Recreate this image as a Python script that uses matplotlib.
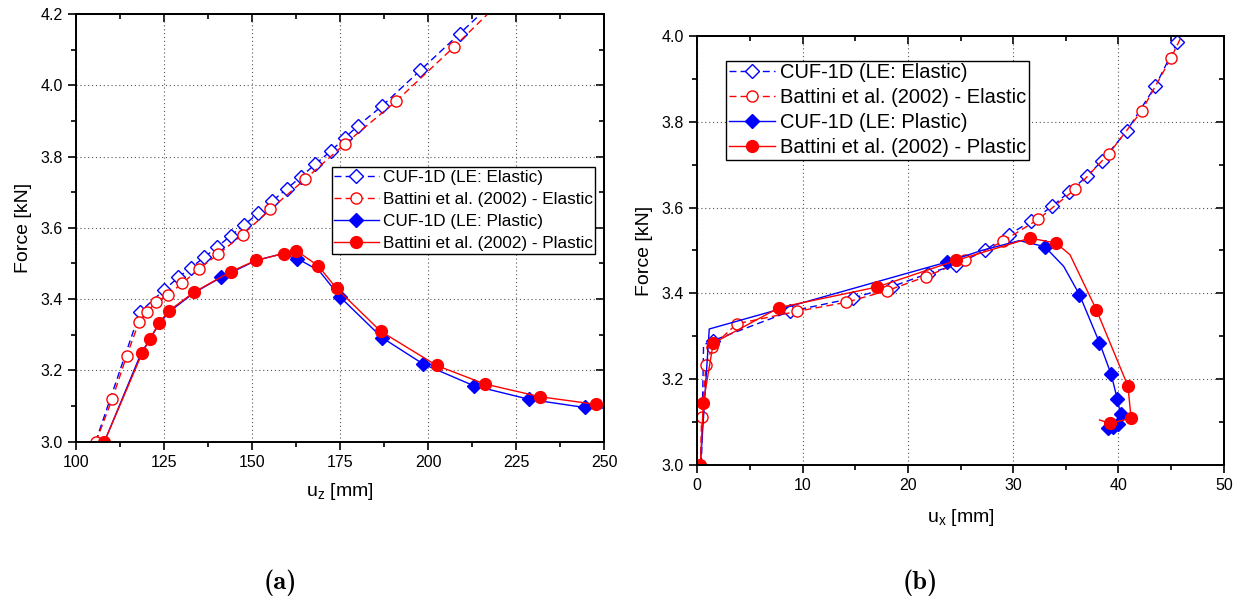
import os
import matplotlib; matplotlib.use("Agg")
import matplotlib.pyplot as plt
from matplotlib.ticker import MultipleLocator, FormatStrFormatter
from matplotlib.font_manager import FontProperties

plt.rcParams["font.family"] = ["Liberation Sans", "DejaVu Sans"]
plt.rcParams["mathtext.default"] = "regular"

# ---- (a) force vs u_z ----
a_el_cuf_x = [105.5, 118.1, 124.9, 129.0, 132.6, 136.3, 139.9, 143.9, 147.7, 151.8, 155.7,
              159.8, 163.8, 168.0, 172.3, 176.3, 180.0, 186.8, 197.8, 209.0, 216.0]
a_el_cuf_y = [3.0, 3.364, 3.425, 3.461, 3.488, 3.517, 3.545, 3.578, 3.608, 3.642, 3.675,
              3.709, 3.743, 3.779, 3.815, 3.852, 3.886, 3.941, 4.042, 4.145, 4.21]
a_el_bat_x = [105.6, 110.2, 114.3, 117.8, 120.0, 122.8, 126.1, 130.1, 134.9, 140.3, 147.3,
              155.2, 165.1, 176.3, 191.0, 207.3, 218.0]
a_el_bat_y = [3.0, 3.119, 3.240, 3.335, 3.365, 3.391, 3.413, 3.444, 3.485, 3.526, 3.581,
              3.652, 3.737, 3.835, 3.956, 4.107, 4.21]
a_pl_cuf_x = [108.0, 118.5, 121.0, 123.5, 126.5, 133.5, 141.2, 151.0, 158.0, 162.8, 169.0,
              175.1, 186.9, 198.6, 213.0, 228.7, 244.5, 251.0]
a_pl_cuf_y = [3.0, 3.25, 3.288, 3.33, 3.365, 3.418, 3.461, 3.508, 3.526, 3.514, 3.48,
              3.405, 3.292, 3.218, 3.157, 3.119, 3.096, 3.094]
a_pl_bat_x = [108.0, 118.8, 120.9, 123.4, 126.3, 133.4, 143.9, 151.1, 159.0, 162.6, 168.8,
              174.0, 186.5, 202.4, 216.1, 231.9, 247.6, 251.0]
a_pl_bat_y = [3.0, 3.250, 3.287, 3.332, 3.367, 3.419, 3.477, 3.509, 3.528, 3.536, 3.493,
              3.430, 3.310, 3.214, 3.162, 3.126, 3.105, 3.101]

# ---- (b) force vs u_x ----
b_el_cuf_x = [0.4, 0.6, 1.5, 8.8, 14.8, 18.5, 21.9, 24.6, 27.3, 29.6, 31.7, 33.7, 35.3,
              37.0, 38.4, 40.8, 43.5, 45.6, 46.0]
b_el_cuf_y = [3.0, 3.28, 3.29, 3.358, 3.389, 3.416, 3.446, 3.467, 3.50, 3.537, 3.568, 3.603,
              3.636, 3.673, 3.708, 3.779, 3.883, 3.986, 4.01]
b_el_bat_x = [0.3, 0.42, 0.83, 1.43, 3.74, 9.44, 14.1, 18.0, 21.7, 25.4, 29.0, 32.4, 35.9,
              39.1, 42.2, 45.0, 46.0]
b_el_bat_y = [3.0, 3.113, 3.233, 3.276, 3.329, 3.358, 3.379, 3.406, 3.439, 3.477, 3.521,
              3.573, 3.643, 3.726, 3.825, 3.949, 4.0]
b_pl_cuf_x = [0.3, 1.14, 23.7, 27.0, 30.6, 33.0, 34.8, 36.3, 38.2, 39.3, 39.9, 40.2, 40.0,
              39.5, 39.0]
b_pl_cuf_y = [3.0, 3.317, 3.473, 3.50, 3.523, 3.509, 3.463, 3.397, 3.285, 3.212, 3.153,
              3.118, 3.095, 3.088, 3.086]
b_pl_bat_x = [0.3, 0.57, 1.52, 7.8, 17.1, 24.6, 31.6, 34.1, 35.4, 37.9, 40.9, 41.2, 39.2, 38.2]
b_pl_bat_y = [3.0, 3.144, 3.284, 3.367, 3.415, 3.477, 3.529, 3.517, 3.49, 3.362, 3.184,
              3.109, 3.097, 3.105]

labels = ["CUF-1D (LE: Elastic)", "Battini et al. (2002) - Elastic",
          "CUF-1D (LE: Plastic)", "Battini et al. (2002) - Plastic"]
BLUE, RED = "#0000ff", "#ff0000"


def style_axes(ax, xmaj, xmin):
    ax.xaxis.set_major_locator(MultipleLocator(xmaj))
    ax.xaxis.set_minor_locator(MultipleLocator(xmin))
    ax.yaxis.set_major_locator(MultipleLocator(0.2))
    ax.yaxis.set_minor_locator(MultipleLocator(0.1))
    ax.yaxis.set_major_formatter(FormatStrFormatter("%.1f"))
    ax.xaxis.set_major_formatter(FormatStrFormatter("%d"))
    ax.grid(True, which="major", ls=(0, (1, 2.5)), color="#555555", lw=0.8)
    for s in ax.spines.values():
        s.set_linewidth(1.4)
    ax.tick_params(which="both", direction="out", width=1.2, labelsize=11.5, top=False, right=False)
    ax.tick_params(which="major", length=6)
    ax.tick_params(which="minor", length=3.5)
    # mirrored ticks pointing inward on top/right
    sec = ax.secondary_xaxis("top")
    sec.xaxis.set_major_locator(MultipleLocator(xmaj)); sec.xaxis.set_minor_locator(MultipleLocator(xmin))
    sec.tick_params(which="both", direction="in", width=1.2, labeltop=False)
    sec.tick_params(which="major", length=6); sec.tick_params(which="minor", length=3.5)
    sec.spines["top"].set_linewidth(1.4)
    sec2 = ax.secondary_yaxis("right")
    sec2.yaxis.set_major_locator(MultipleLocator(0.2)); sec2.yaxis.set_minor_locator(MultipleLocator(0.1))
    sec2.tick_params(which="both", direction="in", width=1.2, labelright=False)
    sec2.tick_params(which="major", length=6); sec2.tick_params(which="minor", length=3.5)
    sec2.spines["right"].set_linewidth(1.4)


def draw(ax, series):
    (ex1, ey1, mk1), (ex2, ey2, mk2), (px1, py1, mk3), (px2, py2, mk4) = series
    ax.plot(ex1, ey1, color=BLUE, ls=(0, (5, 3)), lw=1.0, marker="D", ms=7.5, mfc="white",
            mec=BLUE, mew=1.0, markevery=mk1, label=labels[0])
    ax.plot(ex2, ey2, color=RED, ls=(0, (5, 3)), lw=1.0, marker="o", ms=8, mfc="white",
            mec=RED, mew=1.0, markevery=mk2, label=labels[1])
    ax.plot(px1, py1, color=BLUE, lw=1.0, marker="D", ms=7.5, mfc=BLUE, mec=BLUE,
            markevery=mk3, label=labels[2])
    ax.plot(px2, py2, color=RED, lw=1.0, marker="o", ms=8.5, mfc=RED, mec=RED,
            markevery=mk4, label=labels[3])


fig = plt.figure(figsize=(12.5, 6.08), dpi=100)
ax1 = fig.add_axes([0.061, 0.2735, 0.4222, 0.7035])
ax2 = fig.add_axes([0.5578, 0.2352, 0.4212, 0.7056])

draw(ax1, [(a_el_cuf_x, a_el_cuf_y, list(range(1, len(a_el_cuf_x) - 1))),
           (a_el_bat_x, a_el_bat_y, list(range(0, len(a_el_bat_x) - 1))),
           (a_pl_cuf_x, a_pl_cuf_y, [6, 9, 11, 12, 13, 14, 15, 16]),
           (a_pl_bat_x, a_pl_bat_y, list(range(0, len(a_pl_bat_x) - 1)))])
ax1.set_xlim(100, 250); ax1.set_ylim(3.0, 4.2)
style_axes(ax1, 25, 12.5)
ax1.set_xlabel(r"u$_z$ [mm]", fontsize=14, labelpad=8)
ax1.set_ylabel("Force [kN]", fontsize=14, labelpad=6)
ax1.legend(loc="upper left", bbox_to_anchor=(0.484, 0.6416), fontsize=12.3, frameon=True,
           fancybox=False, edgecolor="black", framealpha=1, numpoints=1, handlelength=2.6,
           borderpad=0.15, labelspacing=0.42, handletextpad=0.25, borderaxespad=0)

draw(ax2, [(b_el_cuf_x, b_el_cuf_y, list(range(2, len(b_el_cuf_x) - 1))),
           (b_el_bat_x, b_el_bat_y, list(range(1, len(b_el_bat_x) - 1))),
           (b_pl_cuf_x, b_pl_cuf_y, [2, 5, 7, 8, 9, 10, 11, 12, 13, 14]),
           (b_pl_bat_x, b_pl_bat_y, [0, 1, 2, 3, 4, 5, 6, 7, 9, 10, 11, 12])])
ax2.set_xlim(0, 50); ax2.set_ylim(3.0, 4.0)
style_axes(ax2, 10, 5)
ax2.set_xlabel(r"u$_x$ [mm]", fontsize=14, labelpad=10)
ax2.set_ylabel("Force [kN]", fontsize=14, labelpad=6)
ax2.legend(loc="upper left", bbox_to_anchor=(0.055, 0.942), fontsize=14.5, frameon=True,
           fancybox=False, edgecolor="black", framealpha=1, numpoints=1, handlelength=2.3,
           borderpad=0.12, labelspacing=0.3, handletextpad=0.25, borderaxespad=0)

cmb = FontProperties(fname=os.path.join(matplotlib.get_data_path(), "fonts", "ttf", "cmb10.ttf"),
                     size=19)
fig.text(0.2245, 0.041, "(a)", fontproperties=cmb, ha="center", va="center")
fig.text(0.7365, 0.041, "(b)", fontproperties=cmb, ha="center", va="center")

fig.savefig("out.png", dpi=100)
